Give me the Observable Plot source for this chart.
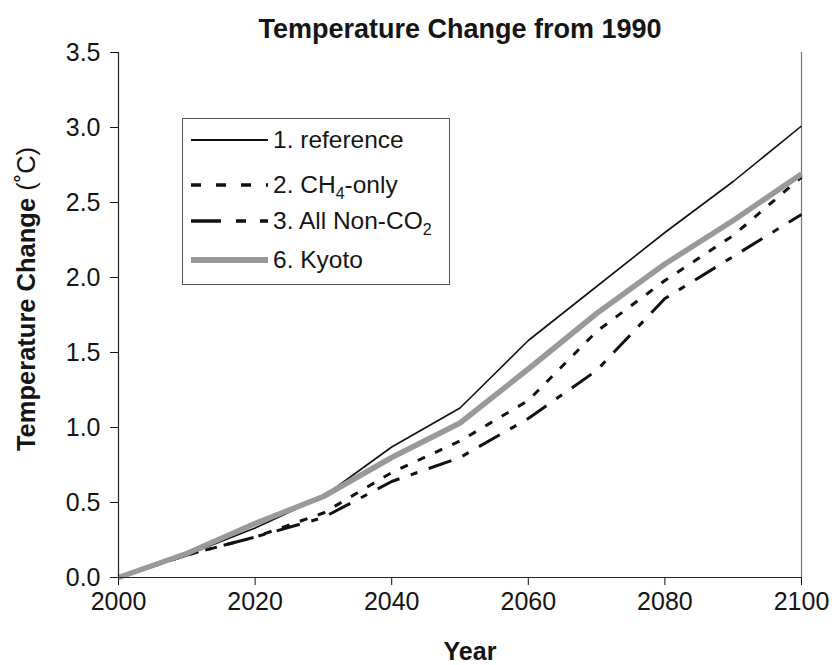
<!DOCTYPE html>
<html>
<head>
<meta charset="utf-8">
<script src="https://cdn.jsdelivr.net/npm/d3@7"></script>
<script src="https://cdn.jsdelivr.net/npm/@observablehq/plot@0.6"></script>
<style>
  body { margin: 0; background: #fff; }
  #wrap { position: relative; width: 835px; height: 665px; font-family: "Liberation Sans", Arial, sans-serif; }
  g[aria-label="y-axis label"] text { font-size: 25.5px; }
  g[aria-label="x-axis label"] text { font-size: 25px; font-weight: bold; }
  #legend { position: absolute; left: 182px; top: 118px; width: 268px; height: 167px; border: 1.5px solid #555; background: #fff; box-sizing: border-box; }
  .row { position: absolute; left: 7px; height: 30px; display: flex; align-items: center; font-size: 24.5px; color: #151515; white-space: nowrap; }
  .row svg { margin-right: 5px; flex: none; }
  sub { font-size: 16px; vertical-align: -6px; line-height: 0; }
</style>
</head>
<body>
<div id="wrap"></div>
<script>
const years = [2000, 2010, 2020, 2030, 2040, 2050, 2060, 2070, 2080, 2090, 2100];
const reference = [0, 0.15, 0.33, 0.54, 0.87, 1.13, 1.58, 1.94, 2.30, 2.64, 3.01];
const ch4Only   = [0, 0.15, 0.27, 0.43, 0.70, 0.91, 1.18, 1.64, 1.98, 2.28, 2.67];
const allNonCO2 = [0, 0.15, 0.27, 0.40, 0.64, 0.80, 1.06, 1.38, 1.86, 2.14, 2.42];
const kyoto     = [0, 0.16, 0.36, 0.54, 0.80, 1.03, 1.39, 1.76, 2.09, 2.38, 2.69];
const xTicks = [2000, 2020, 2040, 2060, 2080, 2100];
const yTicks = [0, 0.5, 1.0, 1.5, 2.0, 2.5, 3.0, 3.5];

const series = [
  {key: "reference", label: "1. reference", values: reference, stroke: "#111", width: 1.6, dash: null, legendDash: "none"},
  {key: "ch4", label: "2. CH<sub>4</sub>-only", values: ch4Only, stroke: "#111", width: 3, dash: "8,11", legendDash: "10,15"},
  {key: "nonco2", label: "3. All Non-CO<sub>2</sub>", values: allNonCO2, stroke: "#111", width: 3, dash: "24,12,7,12", legendDash: "30,15,10,14"},
  {key: "kyoto", label: "6. Kyoto", values: kyoto, stroke: "#999", width: 5.5, dash: null, legendDash: "none"}
];
const toRows = s => years.map((y, i) => ({year: y, value: s.values[i]}));

const chart = Plot.plot({
  width: 835, height: 665,
  marginLeft: 118, marginRight: 34, marginTop: 52, marginBottom: 88,
  style: {fontFamily: '"Liberation Sans", Arial, sans-serif', fontSize: "25px", color: "#151515", background: "#fff"},
  x: {domain: [2000, 2100]},
  y: {domain: [0, 3.5]},
  marks: [
    Plot.ruleX([2100], {stroke: "#777", strokeWidth: 1.2}),
    Plot.axisY({ticks: yTicks, tickFormat: d3.format(".1f"), tickSize: 8, tickPadding: 10,
      label: "Temperature Change (˚C)", labelAnchor: "center", labelArrow: "none", labelOffset: 102}),
    Plot.axisX({ticks: xTicks, tickFormat: d => String(d), tickSize: 8, tickPadding: 7,
      label: "Year", labelAnchor: "center", labelArrow: "none", labelOffset: 82}),
    ...series.map(s => Plot.line(toRows(s), {x: "year", y: "value", stroke: s.stroke, strokeWidth: s.width,
      strokeDasharray: s.dash, strokeLinejoin: "miter", strokeLinecap: "butt"})),
    Plot.ruleX([2000], {stroke: "#222", strokeWidth: 1.2}),
    Plot.ruleY([0], {stroke: "#222", strokeWidth: 1.2}),
    Plot.text(["Temperature Change from 1990"], {frameAnchor: "top", dy: -34, fontWeight: "bold", fontSize: 27})
  ]
});
const wrap = document.getElementById("wrap");
wrap.appendChild(chart);

// y-axis label: bold words, regular unit
const yl = chart.querySelector('g[aria-label="y-axis label"] text');
if (yl) {
  yl.innerHTML = '<tspan font-weight="bold">Temperature Change </tspan><tspan font-weight="normal">(˚C)</tspan>';
  yl.setAttribute("x", 16);
}
const xl = chart.querySelector('g[aria-label="x-axis label"] text');
if (xl) xl.setAttribute("dx", 10);

const legend = document.createElement("div");
legend.id = "legend";
series.forEach((s, i) => {
  const row = document.createElement("div");
  row.className = "row";
  row.style.top = [6, 51, 87, 126][i] + "px";
  row.innerHTML = `<svg width="78" height="12"><line x1="1" y1="6" x2="78" y2="6" stroke="${s.stroke}" stroke-width="${s.key==='kyoto'?6:s.width+0.5}" stroke-dasharray="${s.legendDash}"/></svg><span>${s.label}</span>`;
  legend.appendChild(row);
});
wrap.appendChild(legend);
</script>
</body>
</html>
